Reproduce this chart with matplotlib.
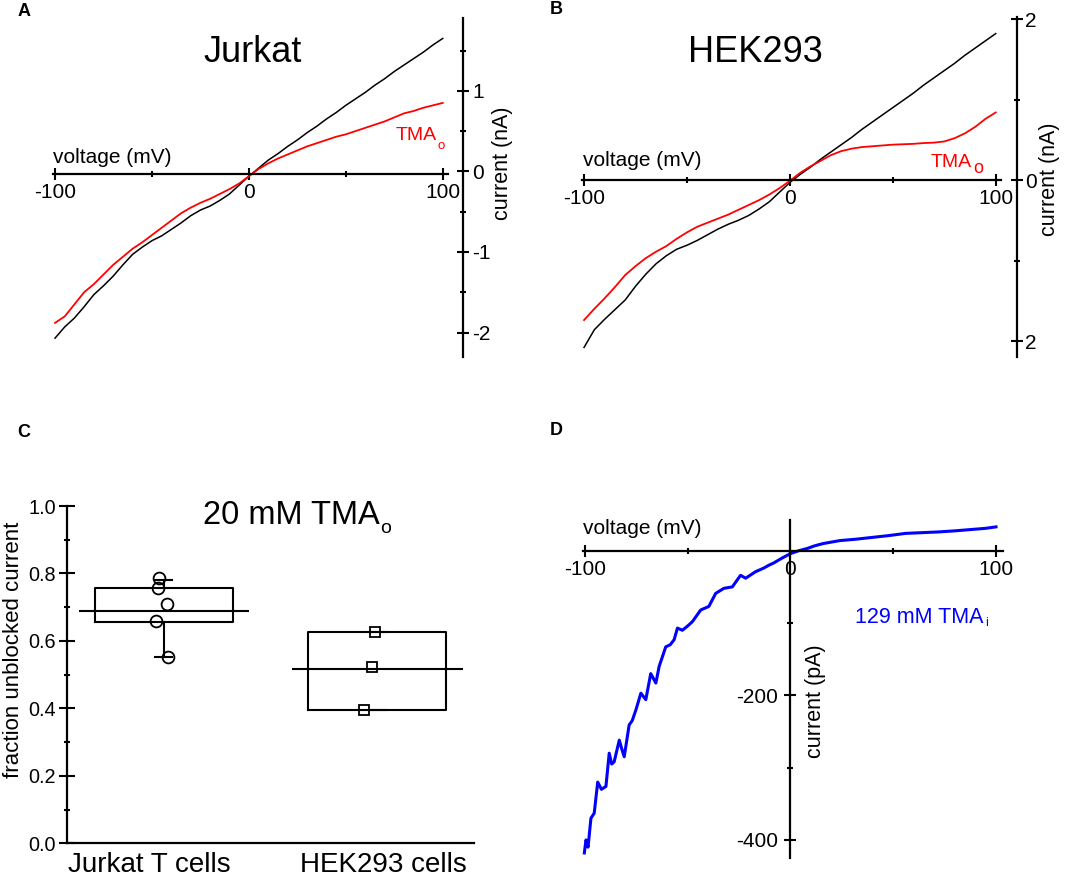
import matplotlib.pyplot as plt

plt.rcParams['font.family'] = ['Liberation Sans', 'DejaVu Sans']
plt.rcParams['axes.unicode_minus'] = False

W, H = 1065, 880

# ---- data ----
# A: Jurkat, I-V before (black) and with TMAo (red), nA
volt_a = [-100, -95, -90, -85, -80, -75, -70, -65, -60, -55, -50, -45, -40, -35, -30,
          -25, -20, -15, -10, -5, 0, 5, 10, 15, 20, 25, 30, 35, 40, 45, 50, 55, 60,
          65, 70, 75, 80, 85, 90, 95, 100]
jurkat_ctrl = [-2.07, -1.93, -1.82, -1.68, -1.53, -1.42, -1.30, -1.16, -1.03, -0.94, -0.86,
               -0.80, -0.72, -0.64, -0.55, -0.48, -0.43, -0.36, -0.28, -0.17, -0.06, 0.04,
               0.14, 0.22, 0.31, 0.39, 0.48, 0.56, 0.65, 0.73, 0.82, 0.90, 0.98, 1.07, 1.15,
               1.24, 1.32, 1.40, 1.48, 1.57, 1.65]
jurkat_tma = [-1.88, -1.80, -1.65, -1.50, -1.40, -1.28, -1.16, -1.06, -0.96, -0.88, -0.79,
              -0.70, -0.61, -0.52, -0.45, -0.39, -0.34, -0.28, -0.22, -0.15, -0.06, 0.03,
              0.10, 0.16, 0.21, 0.26, 0.31, 0.35, 0.39, 0.43, 0.46, 0.50, 0.54, 0.58, 0.62,
              0.67, 0.72, 0.75, 0.79, 0.82, 0.85]

# B: HEK293
volt_b = volt_a
hek_ctrl = [-2.08, -1.86, -1.73, -1.61, -1.49, -1.32, -1.17, -1.04, -0.94, -0.86, -0.81,
            -0.75, -0.68, -0.61, -0.55, -0.50, -0.44, -0.36, -0.27, -0.15, -0.03, 0.07,
            0.16, 0.26, 0.35, 0.44, 0.53, 0.63, 0.72, 0.81, 0.90, 0.99, 1.08, 1.18, 1.27,
            1.36, 1.45, 1.55, 1.64, 1.73, 1.82]
hek_tma = [-1.74, -1.60, -1.47, -1.33, -1.18, -1.07, -0.97, -0.89, -0.82, -0.73, -0.65,
           -0.58, -0.53, -0.48, -0.43, -0.37, -0.31, -0.25, -0.18, -0.10, -0.01, 0.09,
           0.17, 0.24, 0.31, 0.36, 0.39, 0.41, 0.42, 0.43, 0.44, 0.445, 0.45, 0.46, 0.465,
           0.48, 0.52, 0.58, 0.66, 0.76, 0.84]

# C: fraction unblocked current
cell_types = ['Jurkat T cells', 'HEK293 cells']
jurkat_frac = [0.787, 0.757, 0.709, 0.659, 0.552]
jurkat_jitter = [-0.022, -0.027, 0.015, -0.037, 0.020]
hek_frac = [0.626, 0.522, 0.395]
hek_jitter = [-0.010, -0.026, -0.062]
box_q1 = [0.657, 0.395]
box_q3 = [0.756, 0.626]
box_lo = [0.552, 0.395]
box_hi = [0.781, 0.626]
box_mean = [0.690, 0.516]

# D: 129 mM TMAi, pA
volt_d = [-100.3, -99.5, -98.5, -97.1, -95.5, -93.8, -92.0, -89.8, -88.2, -87.0, -85.8,
          -83.3, -82.0, -80.9, -78.5, -77.0, -75.2, -72.8, -70.4, -68.0, -65.5, -63.9,
          -60.7, -58.5, -56.6, -55.0, -52.6, -50.0, -47.7, -43.7, -39.7, -36.4, -32.4,
          -28.3, -24.3, -21.8, -17.0, -13.0, -10.5, -8.2, -4.0, 0.0, 4.0, 8.0, 12.0, 16.0,
          20.0, 24.0, 32.0, 40.0, 48.0, 56.0, 64.0, 72.0, 80.0, 89.0, 95.0, 100.0]
tma_i_current = [-418, -400, -410, -370, -363, -320, -330, -326, -280, -295, -292, -262,
                 -275, -285, -241, -235, -220, -197, -206, -170, -183, -160, -133, -130,
                 -123, -107, -110, -104, -98, -82, -77, -59, -52, -50, -34, -38, -29, -24,
                 -20, -17, -10, -4, 0, 3, 7, 10, 12, 14, 16, 18.5, 21, 24, 25, 26, 27.5,
                 29.6, 31, 33]

fig = plt.figure(figsize=(W / 100, H / 100), dpi=100)


def px_axes(left, top, right, bottom):
    return fig.add_axes([left / W, 1 - bottom / H, (right - left) / W, (bottom - top) / H])


def px_text(x, y, s, **kw):
    fig.text(x / W, 1 - y / H, s, **kw)


def iv_style(ax):
    ax.spines['top'].set_visible(False)
    for sp in ax.spines.values():
        sp.set_linewidth(1.6)
    ax.set_xticks([-100, 0, 100])
    ax.set_xticks([-50, 50], minor=True)
    ax.tick_params(which='both', direction='inout', width=1.5, labelsize=15)
    ax.tick_params(which='major', length=8.5)
    ax.tick_params(which='minor', length=4.5)
    ax.tick_params(axis='x', pad=2.5)


# ---- A ----
axA = px_axes(50.2, 18.3, 463.3, 356.7)
axA.plot(volt_a, jurkat_ctrl, color='black', lw=1.1)
axA.plot(volt_a, jurkat_tma, color='#ff0000', lw=1.3)
axA.set_xlim(-102.5, 110.6)
axA.set_ylim(-2.30, 1.90)
iv_style(axA)
axA.spines['left'].set_visible(False)
axA.spines['bottom'].set_position(('data', -0.03))
axA.spines['bottom'].set_bounds(-100.8, 102.6)
axA.yaxis.tick_right()
axA.set_yticks([-2, -1, 0, 1])
axA.set_yticks([-1.5, -0.5, 0.5, 1.5], minor=True)
axA.tick_params(axis='y', pad=2)

# ---- B ----
axB = px_axes(578.9, 16.7, 1016.7, 356.7)
axB.plot(volt_b, hek_ctrl, color='black', lw=1.1)
axB.plot(volt_b, hek_tma, color='#ff0000', lw=1.3)
axB.set_xlim(-102.5, 110.2)
axB.set_ylim(-2.195, 2.03)
iv_style(axB)
axB.spines['left'].set_visible(False)
axB.spines['bottom'].set_position(('data', 0))
axB.spines['bottom'].set_bounds(-100.8, 102.4)
axB.yaxis.tick_right()
axB.set_yticks([-2, 0, 2], ['2', '0', '2'])
axB.set_yticks([-1, 1], minor=True)
axB.tick_params(axis='y', pad=2)

# ---- C ----
axC = px_axes(67, 506, 473.5, 843.3)
stats = []
for i in range(2):
    stats.append(dict(med=box_mean[i], q1=box_q1[i], q3=box_q3[i],
                      whislo=box_lo[i], whishi=box_hi[i], fliers=[]))
positions = [1, 2]
axC.bxp(stats, positions=positions, widths=0.645, capwidths=0.08,
        boxprops=dict(color='black', lw=1.5),
        whiskerprops=dict(color='black', lw=1.5),
        capprops=dict(color='black', lw=1.5),
        medianprops=dict(lw=0))
axC.hlines(box_mean, [p - 0.40 for p in positions], [p + 0.40 for p in positions],
           color='black', lw=1.5)
axC.plot([positions[0] + j for j in jurkat_jitter], jurkat_frac, 'o', ms=8.5,
         mfc='none', mec='black', mew=1.3, zorder=5)
axC.plot([positions[1] + j for j in hek_jitter], hek_frac, 's', ms=7.5,
         mfc='none', mec='black', mew=1.3, zorder=5)
axC.set_xlim(0.546, 2.451)
axC.set_ylim(0, 1.0)
axC.spines['top'].set_visible(False)
axC.spines['right'].set_visible(False)
for sp in axC.spines.values():
    sp.set_linewidth(1.6)
axC.set_xticks([positions[0] - 0.07, positions[1] + 0.03], cell_types)
axC.tick_params(axis='x', length=0, labelsize=20, pad=6)
axC.set_yticks([0.0, 0.2, 0.4, 0.6, 0.8, 1.0], ['0.0', '0.2', '0.4', '0.6', '0.8', '1.0'])
axC.set_yticks([0.1, 0.3, 0.5, 0.7, 0.9], minor=True)
axC.tick_params(axis='y', which='both', direction='inout', width=1.5, labelsize=14.3, pad=2)
axC.tick_params(axis='y', which='major', length=12)
axC.tick_params(axis='y', which='minor', length=5)

# ---- D ----
axD = px_axes(578.8, 520, 1003.2, 858.3)
axD.plot(volt_d, tma_i_current, color='#0000ff', lw=2.2)
axD.set_xlim(-103, 103.5)
axD.set_ylim(-425.4, 42.5)
iv_style(axD)
axD.spines['right'].set_visible(False)
axD.spines['left'].set_position(('data', 0))
axD.spines['bottom'].set_position(('data', 0))
axD.spines['bottom'].set_bounds(-100.9, 103.5)
axD.set_yticks([-400, -200])
axD.set_yticks([-300, -100], minor=True)
axD.tick_params(axis='y', pad=5)

# ---- text ----
for letter, x, y in [('A', 24, 12), ('B', 556, 10), ('C', 24, 432), ('D', 556, 430)]:
    px_text(x, y, letter, fontsize=13, fontweight='bold', ha='center', va='center')

px_text(253, 53, 'Jurkat', fontsize=26, ha='center', va='center')
px_text(755, 53, 'HEK293', fontsize=26, ha='center', va='center')

for x, y in [(53.4, 157), (583, 160), (583, 528)]:
    px_text(x, y, 'voltage (mV)', fontsize=15, ha='left', va='center')

px_text(502.5, 163, 'current (nA)', fontsize=15.5, rotation=90, ha='center', va='center')
px_text(1049, 179, 'current (nA)', fontsize=15.5, rotation=90, ha='center', va='center')
px_text(815, 700.7, 'current (pA)', fontsize=15.5, rotation=90, ha='center', va='center')

px_text(396, 140, 'TMA', fontsize=14, color='#ff0000', ha='left', va='baseline')
px_text(441.5, 145.7, 'o', fontsize=9.5, color='#ff0000', ha='center', va='center')
px_text(931, 167, 'TMA', fontsize=14, color='#ff0000', ha='left', va='baseline')
px_text(978.5, 168.3, 'o', fontsize=13, color='#ff0000', ha='center', va='center')

px_text(855, 622.7, '129 mM TMA', fontsize=15.5, color='#0000ff', ha='left', va='baseline')
px_text(986.5, 623.3, 'i', fontsize=9, color='#0000ff', ha='center', va='center')

px_text(203, 523.7, '20 mM TMA', fontsize=23.5, ha='left', va='baseline')
px_text(385.7, 528.3, 'o', fontsize=14, ha='center', va='center')
px_text(13.8, 650, 'fraction unblocked current', fontsize=16, rotation=90,
        ha='center', va='center')

fig.savefig('out.png', dpi=100)
